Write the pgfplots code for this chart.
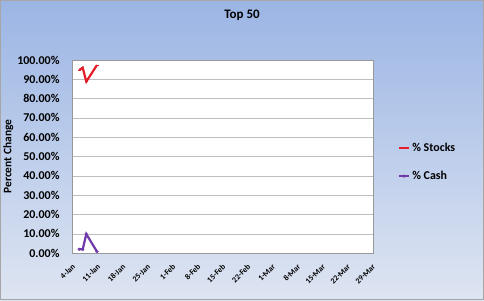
\documentclass[border=0pt]{standalone}
\usepackage{pgfplots}
\pgfplotsset{compat=1.18}
\usepackage{fontspec}
\setmainfont{Carlito}
\definecolor{bgtop}{RGB}{155,181,228}
\definecolor{bgbot}{RGB}{222,229,242}
\definecolor{stockred}{RGB}{228,30,40}
\definecolor{cashpurple}{RGB}{112,58,170}
\definecolor{gridgray}{RGB}{190,190,190}
\begin{document}
\begin{tikzpicture}[x=1bp,y=1bp]
\useasboundingbox (0,0) rectangle (484,300);
\shade[top color=bgtop,bottom color=bgbot] (0,0) rectangle (484,300);
\draw[color=gray!70,line width=1bp] (0.5,0.5) rectangle (483.5,299.5);
\node[font=\bfseries\fontsize{13}{15}\selectfont] at (242,285) {Top 50};
\begin{axis}[
  at={(72bp,47bp)}, anchor=south west,
  width=301bp, height=193bp, scale only axis,
  xmin=0, xmax=84.28, ymin=0, ymax=100,
  axis background/.style={fill=white},
  axis line style={draw=gray!80},
  ytick={0,10,...,100},
  yticklabels={0.00\%,10.00\%,20.00\%,30.00\%,40.00\%,50.00\%,60.00\%,70.00\%,80.00\%,90.00\%,100.00\%},
  xtick={0,7,...,84},
  xticklabels={4-Jan,11-Jan,18-Jan,25-Jan,1-Feb,8-Feb,15-Feb,22-Feb,1-Mar,8-Mar,15-Mar,22-Mar,29-Mar},
  major tick length=0pt,
  ymajorgrids, grid style={draw=gridgray},
  yticklabel style={font=\bfseries\fontsize{12}{14}\selectfont, xshift=-9bp},
  xticklabel style={font=\bfseries\fontsize{8}{9}\selectfont, rotate=45, anchor=north east, xshift=-4bp, yshift=-4bp},
  ylabel={Percent Change},
  ylabel style={font=\bfseries\fontsize{11.5}{13}\selectfont, yshift=-3bp},
  legend style={at={(rel axis cs:1.072,0.47)}, anchor=west, draw=none, fill=none,
    font=\bfseries\fontsize{12}{14}\selectfont, row sep=14pt},
  legend cell align=left,
  legend image post style={xscale=0.6},
  clip=false,
]
\addplot[color=stockred, line width=2.2bp, mark=-, mark size=1.5bp, mark options={line width=1bp}] coordinates {
 (2,94.8) (3,96.0) (4,88.8) (7,97.4)
};
\addlegendentry{\% Stocks}
\addplot[color=cashpurple, line width=2.2bp, mark=o, mark size=1.2bp, mark options={line width=0.8bp}] coordinates {
 (2,1.9) (3,1.9) (4,9.8) (7,0.7)
};
\addlegendentry{\% Cash}
\end{axis}
\end{tikzpicture}
\end{document}
